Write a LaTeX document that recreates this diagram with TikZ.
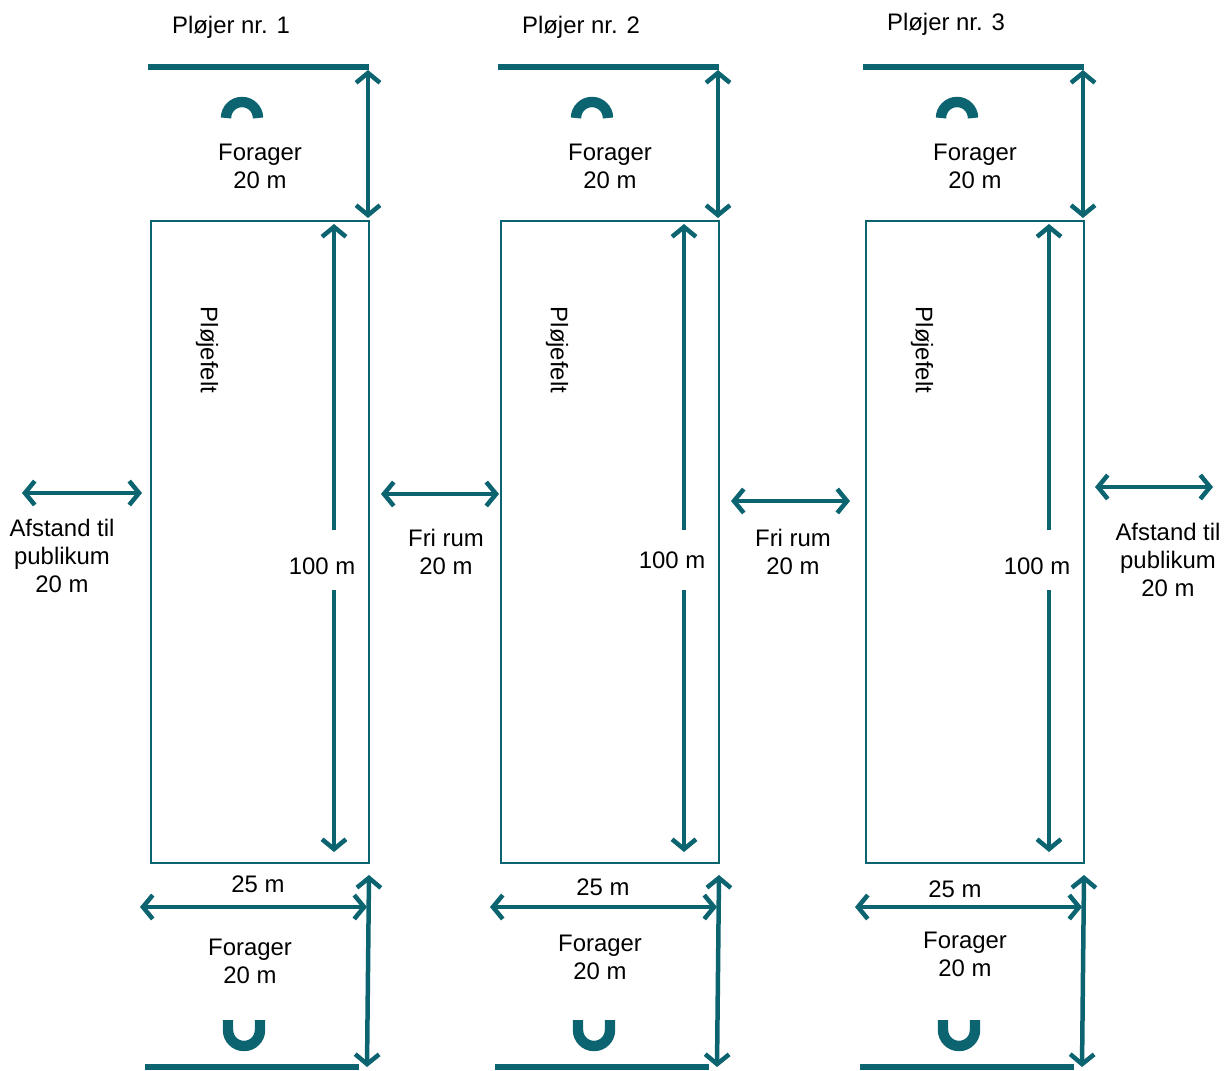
\documentclass[tikz,border=0pt]{standalone}
\usepackage{fontspec}
\setmainfont{Liberation Sans}
\usetikzlibrary{arrows.meta}
\definecolor{plowteal}{RGB}{12,100,112}
\tikzset{
    x=0.025cm, y=-0.025cm,
    barb/.tip={Straight Barb[length=7pt, width=17pt]},
    dim/.style={plowteal, line width=3.2pt, barb-barb},
    onehead/.style={plowteal, line width=3.2pt, -barb},
    headline/.style={plowteal, line width=3.8pt},
    field/.style={draw=plowteal, line width=1.4pt},
    horseshoe/.style={plowteal, line width=7.4pt},
    lbl/.style={font=\fontsize{17}{20}\selectfont, align=center, inner sep=0pt},
}

\begin{document}
\begin{tikzpicture}
    \useasboundingbox (0,0) rectangle (1227,1070);

    % the three fields
    \foreach \L/\n/\ty/\hy/\qx/\qy/\fy in {151/1/27/566/107/884/961, 501/2/27/560/102/887/957, 866/3/24/566/89/889/954} {
        \node[lbl] (title\n) at (\L+80,\ty) {Pløjer nr. \n};
        \draw[headline] (\L-3,67) -- (\L+218,67);
        \draw[horseshoe] (\L+91-16,118) arc[start angle=180, end angle=0, radius=0.4cm];
        \node[lbl] (foretop\n) at (\L+109,166) {Forager\\20 m};
        \draw[dim] (\L+217,70) -- (\L+217,218);

        \draw[field] (\L,221) rectangle (\L+218,863);
        \node[lbl, rotate=-90] (felt\n) at (\L+56,350) {Pløjefelt};
        \node[lbl] (len\n) at (\L+171,\hy) {100 m};
        \draw[onehead] (\L+183,530) -- (\L+183,224);
        \draw[onehead] (\L+183,590) -- (\L+183,852);

        \node[lbl] (wid\n) at (\L+\qx,\qy) {25 m};
        \draw[dim] (\L-11,907) -- (\L+216,907);
        \draw[dim] (\L+218,875) -- (\L+216,1067);
        \node[lbl] (forebot\n) at (\L+99,\fy) {Forager\\20 m};
        \draw[horseshoe] (\L+93-16,1020) -- (\L+93-16,1030)
            arc[start angle=180, end angle=360, radius=0.4cm] -- (\L+93+16,1020);
        \draw[headline] (\L-6,1067) -- (\L+208,1067);
    }

    % gaps between and beside the fields
    \node[lbl] (publeft) at (62,556) {Afstand til\\publikum\\20 m};
    \draw[dim] (22,493) -- (142,493);
    \node[lbl] (fri1) at (446,552) {Fri rum\\20 m};
    \draw[dim] (381,494) -- (499,494);
    \node[lbl] (fri2) at (793,552) {Fri rum\\20 m};
    \draw[dim] (731,501) -- (850,501);
    \node[lbl] (pubright) at (1168,560) {Afstand til\\publikum\\20 m};
    \draw[dim] (1095,487) -- (1213,487);
\end{tikzpicture}
\end{document}
